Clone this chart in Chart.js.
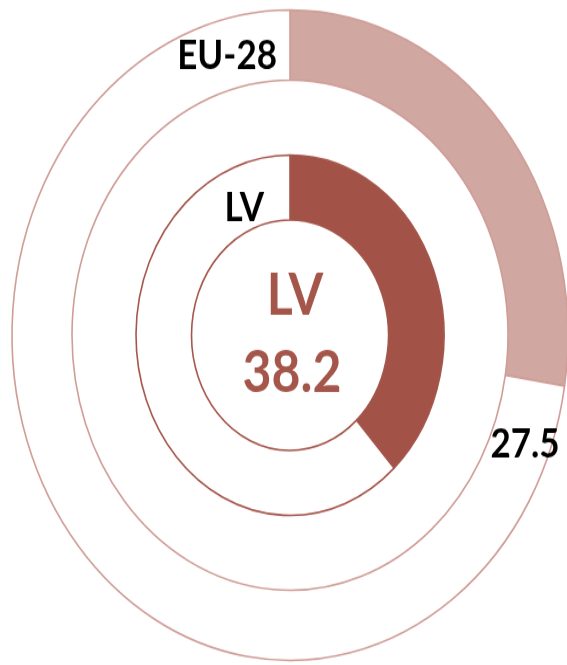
<!DOCTYPE html>
<html>
<head>
<meta charset="utf-8">
<script src="https://cdn.jsdelivr.net/npm/chart.js@4"></script>
<style>
  html, body { margin: 0; padding: 0; background: #fff; }
  body { width: 567px; height: 665px; overflow: hidden; }
  /* the reference is an ellipse, taller than wide: stretch the round doughnut */
  #wrap { width: 580px; height: 573px; transform: scaleY(1.17); transform-origin: 0 0; }
</style>
</head>
<body>
<div id="wrap"><canvas id="myRings" width="580" height="573"></canvas></div>
<script>
// ------------------ data -------------------
var ringNames = ['EU-28', 'LV'];
var ringValues = [27.5, 38.2];
var fillColors = ['#d1a7a1', '#a25246'];
var lineColors = ['#cf9d97', '#a5564b'];
var centerLabel = 'LV';

// ring + its white remainder
function ringDataset(i, weight) {
  return {
    label: ringNames[i],
    data: [ringValues[i], 100 - ringValues[i]],
    backgroundColor: [fillColors[i], '#ffffff'],
    borderColor: lineColors[i],
    borderWidth: 1.6,
    weight: weight
  };
}

// empty band between the two rings
var gapDataset = {
  label: '',
  data: [1],
  backgroundColor: 'rgba(0,0,0,0)',
  borderWidth: 0,
  weight: 64
};

// text on top of the rings
var textPlugin = {
  id: 'ringText',
  afterDraw: function (chart) {
    var ctx = chart.ctx;
    var arc = chart.getDatasetMeta(0).data[0];
    var cx = arc.x, cy = arc.y;
    ctx.save();
    ctx.textBaseline = 'middle';

    ctx.fillStyle = '#000';
    ctx.font = 'bold 35px Lato';
    ctx.textAlign = 'right';
    ctx.fillText(ringNames[0], cx - 13, cy - 239);
    ctx.fillText(ringNames[1], cx - 26, cy - 109);
    ctx.textAlign = 'center';
    ctx.fillText(ringValues[0].toFixed(1), cx + 235, cy + 93);

    ctx.fillStyle = lineColors[1];
    ctx.font = 'bold 50px Lato';
    ctx.fillText(centerLabel, cx + 5, cy - 34);
    ctx.fillText(ringValues[1].toFixed(1), cx + 2, cy + 32);
    ctx.restore();
  }
};

var ctx = document.getElementById('myRings').getContext('2d');
var myRings = new Chart(ctx, {
  type: 'doughnut',
  data: {
    labels: ['share', 'rest'],
    datasets: [ringDataset(0, 60), gapDataset, ringDataset(1, 55.5)]
  },
  options: {
    responsive: false,
    animation: false,
    radius: 278,
    cutout: '35.43%',
    layout: { padding: 0 },
    plugins: {
      legend: { display: false },
      tooltip: { enabled: false }
    }
  },
  plugins: [textPlugin]
});
</script>
</body>
</html>
